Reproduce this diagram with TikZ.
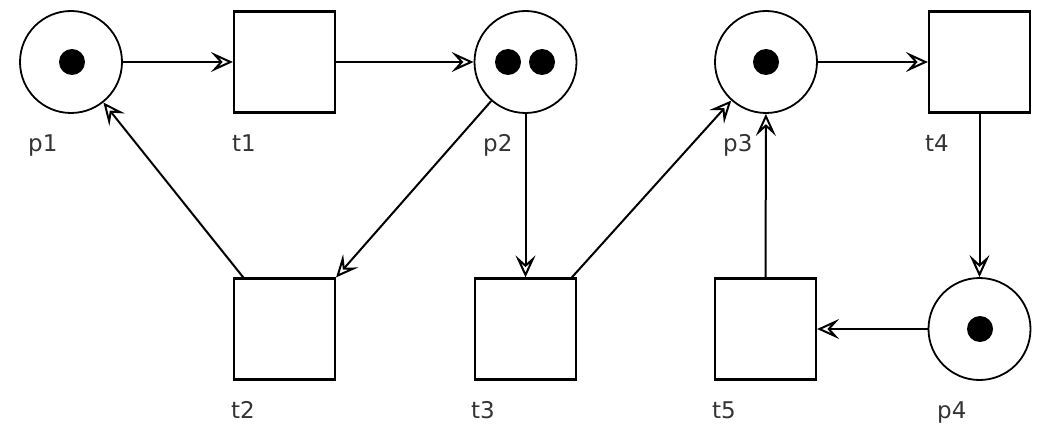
\documentclass[tikz,border=0pt]{standalone}
\usepackage{fontspec}
\setmainfont{DejaVu Sans}
\usetikzlibrary{arrows.meta}
\begin{document}
\begin{tikzpicture}[x=1pt,y=-1pt,
  place/.style={draw,circle,line width=1.8pt,minimum size=102pt,inner sep=0pt},
  trans/.style={draw,rectangle,line width=2.2pt,minimum size=101pt,inner sep=0pt},
  token/.style={circle,fill=black,minimum size=26pt,inner sep=0pt},
  lbl/.style={anchor=base west,inner sep=0pt,font=\fontsize{23}{23}\selectfont,text=black!80},
  arc/.style={line width=2pt,-{Stealth[open,length=22pt,width=20pt,inset=9pt,line width=2pt]}}
]
\useasboundingbox (0,0) rectangle (1042,425);
% places
\node[place] (p1) at (71,62) {};
\node[place] (p2) at (525.5,62) {};
\node[place] (p3) at (766,62) {};
\node[place] (p4) at (979.5,329) {};
% tokens
\node[token] (k1) at (72,62) {};
\node[token] (k2a) at (508,62) {};
\node[token] (k2b) at (542,62) {};
\node[token] (k3) at (766,62) {};
\node[token] (k4) at (980,329) {};
% transitions
\node[trans] (t1) at (284.5,62) {};
\node[trans] (t4) at (979.5,62) {};
\node[trans] (t2) at (284.5,329) {};
\node[trans] (t3) at (525.5,329) {};
\node[trans] (t5) at (765.5,329) {};
% labels
\node[lbl] (lp1) at (28,152) {p1};
\node[lbl] (lt1) at (232,152) {t1};
\node[lbl] (lp2) at (483,152) {p2};
\node[lbl] (lp3) at (723,152) {p3};
\node[lbl] (lt4) at (925,152) {t4};
\node[lbl] (lt2) at (231,418) {t2};
\node[lbl] (lt3) at (471,418) {t3};
\node[lbl] (lt5) at (712,418) {t5};
\node[lbl] (lp4) at (937,418) {p4};
% arcs
\draw[arc] (p1) -- (t1);
\draw[arc] (t1) -- (p2);
\draw[arc] (p2) -- (t2.north east);
\draw[arc] (t2) -- (p1);
\draw[arc] (p2) -- (t3);
\draw[arc] (t3) -- (p3);
\draw[arc] (t5) -- (p3);
\draw[arc] (p3) -- (t4);
\draw[arc] (t4) -- (p4);
\draw[arc] (p4) -- (t5);
\end{tikzpicture}
\end{document}
